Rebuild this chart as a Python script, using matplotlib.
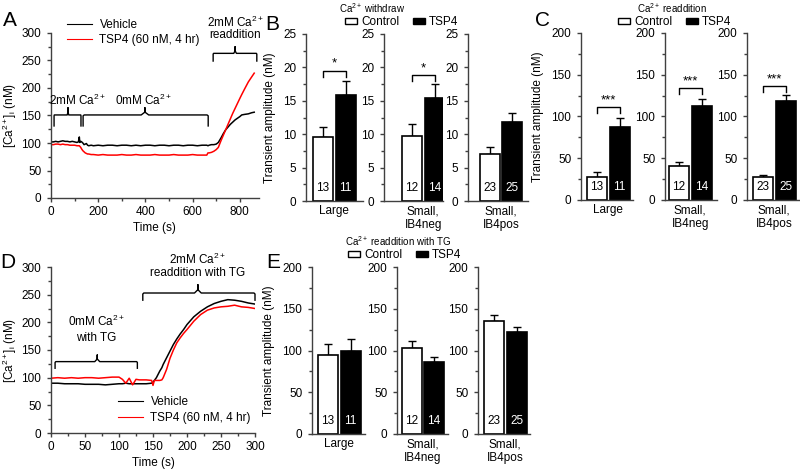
import matplotlib.pyplot as plt
from matplotlib.patches import Patch
from matplotlib.ticker import MultipleLocator

plt.rcParams['font.family'] = ['Liberation Sans', 'DejaVu Sans']
plt.rcParams['font.size'] = 8.5
plt.rcParams['mathtext.fontset'] = 'custom'
plt.rcParams['mathtext.rm'] = 'Liberation Sans'
plt.rcParams['mathtext.it'] = 'Liberation Sans:italic'

# ---- traces (panel A), time in s, [Ca2+]i in nM ----
t_a = [0, 10, 20, 30, 40, 50, 60, 70, 80, 90, 100, 110, 116, 120, 122, 126, 130, 135, 140, 145,
       150, 155, 160, 170, 180, 200, 220, 240, 260, 280, 300, 320, 340, 360, 380, 400, 420, 440,
       460, 480, 500, 520, 540, 560, 580, 600, 620, 640, 660, 665, 670, 680, 690, 700, 709, 720,
       730, 740, 750, 760, 770, 780, 790, 800, 808, 820, 836, 850, 861]
veh_a = [102, 102, 103, 102, 103, 104, 103, 103, 102, 103, 102, 101, 102, 111, 101, 103, 102, 100, 97, 98,
         99, 96, 95, 96, 95, 96, 95, 96, 96, 95, 96, 96, 95, 96, 95, 96, 96, 95,
         96, 96, 95, 96, 96, 95, 96, 96, 95, 96, 96, 95, 96, 97, 97, 98, 101, 109,
         117, 124, 129, 134, 138, 142, 145, 148, 151, 152, 153, 155, 156]
tsp_a = [97, 97, 98, 98, 97, 98, 97, 97, 96, 96, 96, 95, 95, 95, 94, 92, 89, 86, 84, 82,
         81, 80, 80, 79, 79, 78, 79, 78, 78, 78, 79, 78, 78, 79, 78, 78, 78, 79,
         78, 78, 78, 79, 78, 78, 78, 79, 78, 78, 78, 82, 82, 83, 85, 88, 92, 104,
         114, 124, 134, 144, 154, 163, 172, 181, 188, 198, 211, 220, 227]

# ---- traces (panel D) ----
t_d = [0, 10, 20, 30, 40, 50, 60, 70, 80, 90, 100, 105, 110, 115, 120, 125, 130, 140, 148, 150,
       152, 155, 160, 163, 165, 170, 175, 180, 185, 190, 195, 200, 210, 220, 230, 240, 250, 260,
       270, 280, 290, 300]
veh_d = [90, 90, 89, 89, 89, 88, 88, 88, 87, 88, 89, 89, 90, 89, 89, 89, 89, 89, 90, 92,
         95, 100, 112, 118, 124, 136, 148, 160, 170, 179, 187, 196, 210, 220, 228, 234, 238, 241,
         240, 238, 235, 233]
tsp_d = [99, 100, 99, 100, 99, 100, 100, 99, 100, 101, 101, 97, 90, 99, 87, 97, 96, 96, 95, 86,
         95, 95, 95, 96, 100, 115, 135, 150, 163, 172, 180, 187, 202, 214, 222, 226, 228, 229,
         231, 228, 227, 225]

# ---- bar data ----
groups = ['Large', 'Small,\nIB4neg', 'Small,\nIB4pos']
n_ctrl = [13, 12, 23]
n_tsp = [11, 14, 25]

withdraw_ctrl = [9.6, 9.8, 7.0]
withdraw_ctrl_err = [1.5, 1.7, 1.1]
withdraw_tsp = [15.8, 15.4, 11.8]
withdraw_tsp_err = [2.1, 2.1, 1.3]
withdraw_sig = ['*', '*', '']

readd_ctrl = [28, 41, 28]
readd_ctrl_err = [5, 4, 2]
readd_tsp = [87, 113, 118]
readd_tsp_err = [11, 8, 8]
readd_sig = ['***', '***', '***']

tg_ctrl = [95, 103, 135]
tg_ctrl_err = [13, 8, 8]
tg_tsp = [99, 86, 122]
tg_tsp_err = [15, 6, 6]
tg_sig = ['', '', '']

W, H = 800, 474
fig = plt.figure(figsize=(W / 100, H / 100), dpi=100)
AX_COLOR = '#404040'


def px_axes(l, r, t, b):
    return fig.add_axes([l / W, 1 - b / H, (r - l) / W, (b - t) / H])


def style(ax):
    for s in ['top', 'right']:
        ax.spines[s].set_visible(False)
    for s in ['left', 'bottom']:
        ax.spines[s].set_color(AX_COLOR)
        ax.spines[s].set_linewidth(1.0)
    ax.tick_params(which='both', direction='out', color=AX_COLOR, width=1.0, labelsize=8.5)
    ax.tick_params(which='major', length=3)
    ax.tick_params(which='minor', length=2)
    ax.tick_params(axis='y', pad=4)
    ax.tick_params(axis='x', pad=2.5)
    ax.set_facecolor('none')


def brace(ax, x0, x1, xm, y_end, y_flat, y_tip):
    dx = (x1 - x0) * 0.03
    dy = (y_tip - y_flat) * 0.4
    xs = [x0, x0, x0 + dx * 0.3, xm - dx, xm, xm, xm, xm + dx, x1 - dx * 0.3, x1, x1]
    ys = [y_end, y_flat - dy * 0.3, y_flat, y_flat, y_flat + dy, y_tip, y_flat + dy, y_flat, y_flat,
          y_flat - dy * 0.3, y_end]
    ax.plot(xs, ys, color='black', lw=1.0, clip_on=False, solid_joinstyle='round')


def trace_panel(ax, t, veh, tsp, xmax, xmaj, xmin):
    ax.plot(t, veh, color='black', lw=1.1, label='Vehicle')
    ax.plot(t, tsp, color='#ff0000', lw=1.1, label='TSP4 (60 nM, 4 hr)')
    ax.set_xlim(0, xmax)
    ax.set_ylim(0, 300)
    ax.xaxis.set_major_locator(MultipleLocator(xmaj))
    ax.xaxis.set_minor_locator(MultipleLocator(xmin))
    ax.yaxis.set_major_locator(MultipleLocator(50))
    ax.yaxis.set_minor_locator(MultipleLocator(25))
    ax.set_xlabel('Time (s)', labelpad=3)
    ax.set_ylabel(r'[Ca$^{2+}$]$_\mathrm{i}$ (nM)', labelpad=2)
    style(ax)


def trace_legend(ax, x, y):
    leg = ax.legend(loc='center left', bbox_to_anchor=(x / W, 1 - y / H),
                    bbox_transform=fig.transFigure, frameon=False, fontsize=8.5,
                    handlelength=2.1, handletextpad=0.65, labelspacing=0.3,
                    borderpad=0, borderaxespad=0)
    for ln in leg.get_lines():
        ln.set_linewidth(0.8)


# ---------- Panel A ----------
axA = px_axes(51, 258.7, 33, 198)
trace_panel(axA, t_a, veh_a, tsp_a, 880, 200, 100)
brace(axA, 13, 127, 72, 131, 151, 164)
brace(axA, 136, 666, 398, 131, 151, 164)
brace(axA, 687, 872, 780, 249, 263, 275)
axA.text(114, 178, r'2mM Ca$^{2+}$', ha='center', va='center')
axA.text(392, 178, r'0mM Ca$^{2+}$', ha='center', va='center')
axA.text(780, 320, r'2mM Ca$^{2+}$', ha='center', va='center', clip_on=False)
axA.text(780, 296, 'readdition', ha='center', va='center', clip_on=False)
trace_legend(axA, 67, 32.5)

# ---------- Panel D ----------
axD = px_axes(51, 255, 267, 433)
trace_panel(axD, t_d, veh_d, tsp_d, 300, 50, 25)
brace(axD, 6, 127, 68, 117, 129, 141)
brace(axD, 135, 300, 216, 240, 253, 268)
axD.text(67, 201, r'0mM Ca$^{2+}$', ha='center', va='center')
axD.text(67, 172, 'with TG', ha='center', va='center')
axD.text(216, 313, r'2mM Ca$^{2+}$', ha='center', va='center', clip_on=False)
axD.text(216, 289, 'readdition with TG', ha='center', va='center', clip_on=False)
trace_legend(axD, 118, 410)

# ---------- Bar panels ----------
SPACING = 22.5  # px between bar centres
BAR_W = 20 / SPACING


def bar_group(boxes, top, ctrl, ctrl_err, tsp, tsp_err, sig, sig_y, ymax, ymaj, ymin):
    axes = []
    for i, (l, r, c0) in enumerate(boxes):
        ax = px_axes(l, r, top, top + 167)
        ax.bar([0], [ctrl[i]], width=BAR_W, color='white', edgecolor='black', lw=1.2, zorder=2)
        ax.bar([1], [tsp[i]], width=BAR_W, color='black', edgecolor='black', lw=1.2, zorder=2)
        ax.errorbar([0], [ctrl[i]], yerr=[[0], [ctrl_err[i]]], fmt='none', ecolor='black',
                    elinewidth=1.0, capsize=3, capthick=1.0, zorder=1)
        ax.errorbar([1], [tsp[i]], yerr=[[0], [tsp_err[i]]], fmt='none', ecolor='black',
                    elinewidth=1.0, capsize=3, capthick=1.0, zorder=1)
        ax.text(0, 0.08, str(n_ctrl[i]), transform=ax.get_xaxis_transform(), ha='center',
                va='center', color='black', zorder=3)
        ax.text(1, 0.08, str(n_tsp[i]), transform=ax.get_xaxis_transform(), ha='center',
                va='center', color='white', zorder=3)
        if sig[i]:
            yb = sig_y[i]
            d = ymax * 0.035
            ax.plot([0, 0, 1, 1], [yb - d, yb, yb, yb - d], color='black', lw=1.0)
            ax.text(0.5, yb + ymax * 0.005, sig[i], ha='center', va='bottom', fontsize=9.5)
        ax.set_xlim(-(c0 - l) / SPACING, (r - c0) / SPACING)
        ax.set_ylim(0, ymax)
        ax.set_xticks([0.5], [groups[i]])
        ax.yaxis.set_major_locator(MultipleLocator(ymaj))
        ax.yaxis.set_minor_locator(MultipleLocator(ymin))
        style(ax)
        ax.tick_params(axis='x', which='both', length=0, pad=3)
        axes.append(ax)
    axes[0].set_ylabel('Transient amplitude (nM)', labelpad=5)
    return axes


bar_group([(306, 363, 323), (384, 443, 412), (468, 528, 490)], 34,
          withdraw_ctrl, withdraw_ctrl_err, withdraw_tsp, withdraw_tsp_err,
          withdraw_sig, [19.5, 18.8, 0], 25, 5, 2.5)
bar_group([(581, 633, 597), (665, 717, 679), (747, 799, 763)], 33,
          readd_ctrl, readd_ctrl_err, readd_tsp, readd_tsp_err,
          readd_sig, [111, 134, 136], 200, 50, 25)
bar_group([(312, 365, 328), (397, 448, 411.5), (478, 530, 494)], 267,
          tg_ctrl, tg_ctrl_err, tg_tsp, tg_tsp_err,
          tg_sig, [0, 0, 0], 200, 50, 25)

# legends for bar panels
handles = [Patch(facecolor='white', edgecolor='black', lw=1.0),
           Patch(facecolor='black', edgecolor='black', lw=1.0)]


def bar_legend(title, tx, ty, lx, ly):
    fig.text(tx / W, 1 - ty / H, title, ha='center', va='center', fontsize=7)
    fig.legend(handles, ['Control', 'TSP4'], loc='center left',
               bbox_to_anchor=(lx / W, 1 - ly / H), ncol=2, frameon=False, fontsize=8.5,
               handlelength=1.05, handleheight=0.45, handletextpad=0.35,
               columnspacing=1.1, borderpad=0, borderaxespad=0)


bar_legend(r'Ca$^{2+}$ withdraw', 372, 8, 345, 22)
bar_legend(r'Ca$^{2+}$ readdition', 672, 8, 618, 22)
bar_legend(r'Ca$^{2+}$ readdition with TG', 398, 241, 348, 255)

# panel letters
for letter, x, y in [('A', 10, 20), ('B', 272, 25), ('C', 542, 20), ('D', 8, 262), ('E', 273, 262)]:
    fig.text(x / W, 1 - y / H, letter, fontsize=15, ha='center', va='center')

fig.savefig('out.png', dpi=100)
